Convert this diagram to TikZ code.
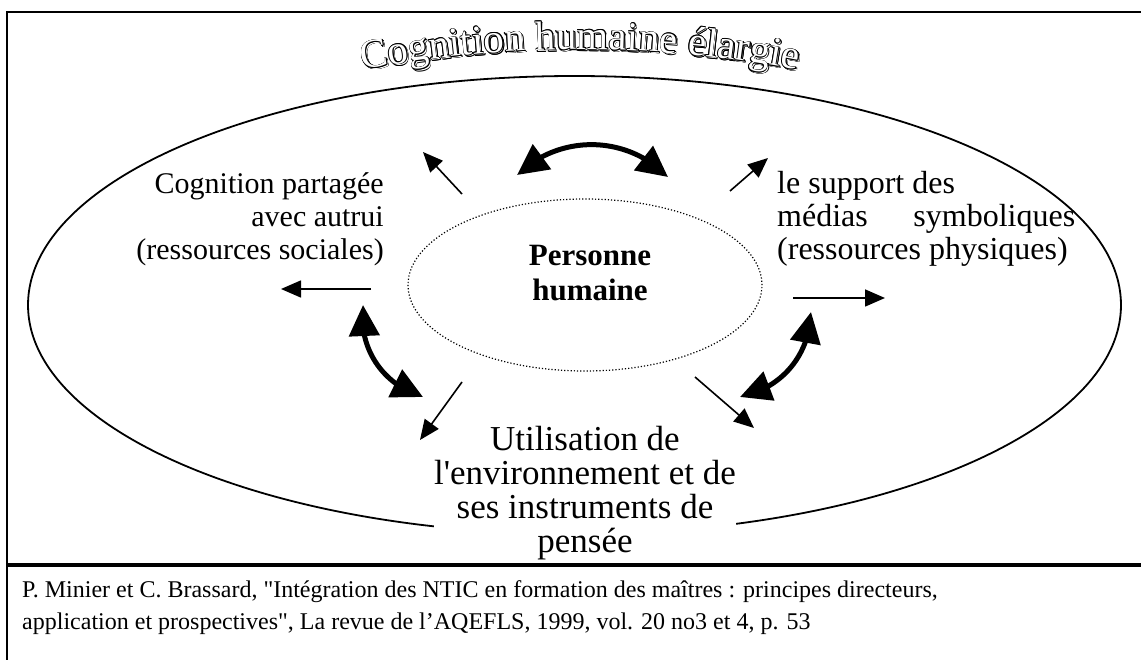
\documentclass[tikz,border=0pt]{standalone}
\usepackage{fontspec}
\setmainfont{Liberation Serif}[Ligatures=TeXOff]
\usetikzlibrary{arrows.meta,shapes.geometric,bending,decorations.text}
\newcommand\titlefont{\fontsize{41}{41}\selectfont}
\tikzset{
  body/.style={font=\fontsize{30}{33}\selectfont, inner sep=0pt},
  citetext/.style={font=\fontsize{24}{28}\selectfont, inner sep=0pt, anchor=base west},
  thinarrow/.style={line width=1.6pt, -{Triangle[length=20pt,width=17pt]}},
  thickarrow/.style={line width=5pt, {Triangle[length=31pt,width=30pt]}-{Triangle[length=31pt,width=30pt]}},
  frame/.style={line width=2pt},
  titlearc/.style={decorate, decoration={text along path, text align=center, text color=#1,
     text={|\titlefont|Cognition humaine élargie}}},
}
\begin{document}
\begin{tikzpicture}[x=1pt,y=-1pt]
\useasboundingbox (0,0) rectangle (1141,660);
\fill[white] (0,0) rectangle (1141,660);
% frames
\draw[frame] (7,660) -- (7,12) -- (1141,12);
\draw[line width=4pt] (7,565) -- (1141,565);
% ellipses
\node[ellipse, draw, line width=1.8pt, minimum width=1093pt, minimum height=458pt, inner sep=0pt] (outer) at (574.5,305) {};
\node[ellipse, draw, line width=1.2pt, dash pattern=on 1.2pt off 2pt, minimum width=354pt, minimum height=172pt, inner sep=0pt] (inner) at (585,285) {};
% title along an arc: outlined letters with an outlined shadow
\foreach \ox/\oy in {1.4/1.4,0/0}{
  \foreach \dx/\dy in {0.65/0,-0.65/0,0/0.65,0/-0.65,0.45/0.45,0.45/-0.45,-0.45/0.45,-0.45/-0.45}{
    \path[titlearc=black, shift={(\ox+\dx,\oy+\dy)}] (299,84) .. controls (484,38) and (676,38) .. (861,84);
  }
  \path[titlearc=white, shift={(\ox,\oy)}] (299,84) .. controls (484,38) and (676,38) .. (861,84);
}
% texts
\node[body, font=\fontsize{31}{35}\selectfont\bfseries, align=center] (person) at (590,273) {Personne\\humaine};
\node[body, align=right, anchor=east] (social) at (384,219) {Cognition partagée\\avec autrui\\(ressources sociales)};
\node[body, font=\fontsize{32}{33}\selectfont, align=left, anchor=west] (phys) at (777,219) {le support des\\\makebox[298pt][s]{médias symboliques}\\(ressources physiques)};
\node[body, font=\fontsize{35}{34}\selectfont, align=center, fill=white] (env) at (585,493) {Utilisation de\\l'environnement et de\\ses instruments de\\pensée};
\node[citetext] (c1) at (22,597) {P. Minier et C. Brassard, "Intégration des NTIC en formation des maîtres : principes directeurs,};
\node[citetext] (c2) at (22,629) {application et prospectives", La revue de l’AQEFLS, 1999, vol. 20 no3 et 4, p. 53};
% arrow end points
\coordinate (a1s) at (462,194); \coordinate (a1e) at (423,152);
\coordinate (a2s) at (730,191); \coordinate (a2e) at (768,158);
\coordinate (a3s) at (371,289); \coordinate (a3e) at (281,289);
\coordinate (a4s) at (793,298); \coordinate (a4e) at (885,298);
\coordinate (a5s) at (462,382); \coordinate (a5e) at (420,440);
\coordinate (a6s) at (695,377); \coordinate (a6e) at (754,428);
\coordinate (b1s) at (517,175); \coordinate (b1e) at (668,177);
\coordinate (b2s) at (363,305); \coordinate (b2e) at (423,397);
\coordinate (b3s) at (811,312); \coordinate (b3e) at (740,397);
% thin arrows
\draw[thinarrow] (a1s) -- (a1e);
\draw[thinarrow] (a2s) -- (a2e);
\draw[thinarrow] (a3s) -- (a3e);
\draw[thinarrow] (a4s) -- (a4e);
\draw[thinarrow] (a5s) -- (a5e);
\draw[thinarrow] (a6s) -- (a6e);
% thick curved double arrows
\draw[thickarrow] (b1s) to[bend left=45] (b1e);
\draw[thickarrow] (b2s) to[bend right=40] (b2e);
\draw[thickarrow] (b3s) to[bend left=38] (b3e);
\end{tikzpicture}
\end{document}
